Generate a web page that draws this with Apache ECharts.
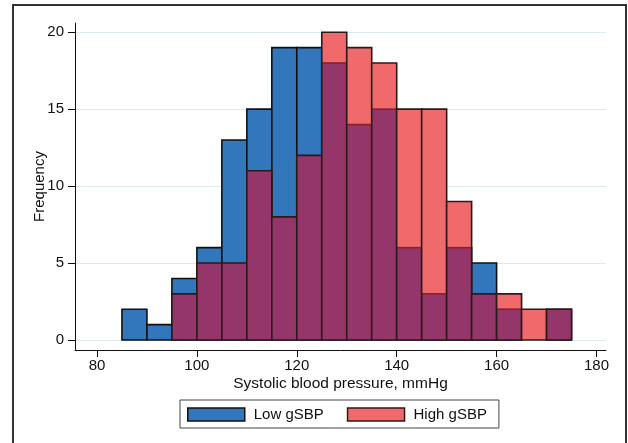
<!DOCTYPE html>
<html>
<head>
<meta charset="utf-8">
<script src="https://cdn.jsdelivr.net/npm/echarts@6.0.0/dist/echarts.min.js"></script>
<style>
  html, body { margin: 0; padding: 0; background: #fff; }
  #chart { width: 628px; height: 443px; }
</style>
</head>
<body>
<div id="chart"></div>
<script>
// histogram bins (left edge, width 5 mmHg)
var binStart = [85, 90, 95, 100, 105, 110, 115, 120, 125, 130, 135, 140, 145, 150, 155, 160, 165, 170];
var binWidth = 5;
var lowCounts  = [2, 1, 4, 6, 13, 15, 19, 19, 18, 14, 15, 6, 3, 6, 5, 2, 0, 2];
var highCounts = [0, 0, 3, 5, 5, 11, 8, 12, 20, 19, 18, 15, 15, 9, 3, 3, 2, 2];
var xTicks = [80, 100, 120, 140, 160, 180];
var yTicks = [0, 5, 10, 15, 20];

var blue = '#3276bc';
var red = '#f06a6c';
var purple = '#94366a';
var font = 'Liberation Sans, Arial, Helvetica, sans-serif';

var myChart = echarts.init(document.getElementById('chart'));

function barRect(api, x0, v) {
    var p0 = api.coord([x0, 0]);
    var p1 = api.coord([x0 + binWidth, v]);
    return { x: p0[0], y: p1[1], width: p1[0] - p0[0], height: p0[1] - p1[1] };
}

var option = {
    animation: false,
    textStyle: { fontFamily: font },
    grid: { left: 75, right: 22, top: 23, bottom: 93 },
    graphic: [{
        type: 'rect',
        shape: { x: 13, y: 5, width: 613, height: 460 },
        style: { fill: 'none', stroke: '#333', lineWidth: 2 },
        silent: true
    }],
    legend: {
        left: 180,
        top: 400,
        orient: 'horizontal',
        padding: [7, 12, 6, 7],
        itemGap: 23,
        itemWidth: 57,
        itemHeight: 13,
        borderColor: '#444',
        borderWidth: 1,
        textStyle: { fontSize: 15, color: '#111', fontFamily: font, padding: [0, 0, 0, 4] },
        data: [
            { name: 'Low gSBP', icon: 'rect', itemStyle: { color: blue, borderColor: '#111', borderWidth: 1.5 } },
            { name: 'High gSBP', icon: 'rect', itemStyle: { color: red, borderColor: '#3a1515', borderWidth: 1.5 } }
        ]
    },
    xAxis: {
        type: 'value',
        min: 75.6,
        max: 181.9,
        name: 'Systolic blood pressure, mmHg',
        nameLocation: 'middle',
        nameGap: 26,
        nameMoveOverlap: false,
        nameTextStyle: { fontSize: 15.5, color: '#111', fontFamily: font },
        axisLine: { show: true, onZero: false, lineStyle: { color: '#111', width: 1 } },
        axisTick: { show: true, length: 7, customValues: xTicks, lineStyle: { color: '#111' } },
        axisLabel: { customValues: xTicks, fontSize: 15, color: '#111', margin: 8 },
        splitLine: { show: false }
    },
    yAxis: {
        type: 'value',
        min: -0.65,
        max: 20.6,
        name: 'Frequency',
        nameLocation: 'middle',
        nameGap: 28,
        nameMoveOverlap: false,
        nameTextStyle: { fontSize: 15, color: '#111', fontFamily: font },
        axisLine: { show: true, onZero: false, lineStyle: { color: '#111', width: 1 } },
        axisTick: { show: true, length: 7, customValues: yTicks, lineStyle: { color: '#111' } },
        axisLabel: { customValues: yTicks, fontSize: 15, color: '#111', margin: 11 },
        splitLine: { show: true, lineStyle: { color: '#dcebee', width: 1 } }
    },
    series: [
        {
            name: 'Low gSBP',
            type: 'custom',
            itemStyle: { color: blue, borderColor: '#111', borderWidth: 1.5 },
            data: binStart.map(function (s, i) { return [s, lowCounts[i]]; }),
            renderItem: function (params, api) {
                var v = api.value(1);
                if (!(v > 0)) return null;
                return {
                    type: 'rect',
                    shape: barRect(api, api.value(0), v),
                    style: { fill: blue, stroke: '#111', lineWidth: 1.6 }
                };
            }
        },
        {
            name: 'High gSBP',
            type: 'custom',
            itemStyle: { color: red, borderColor: '#3a1515', borderWidth: 1.5 },
            data: binStart.map(function (s, i) { return [s, highCounts[i], lowCounts[i]]; }),
            renderItem: function (params, api) {
                var x0 = api.value(0);
                var v = api.value(1);
                var low = api.value(2);
                if (!(v > 0)) return null;
                var r = barRect(api, x0, v);
                var children = [{
                    type: 'rect', shape: r,
                    style: { fill: red, stroke: null }
                }];
                if (low > 0) {
                    var m = barRect(api, x0, Math.min(v, low));
                    children.push({ type: 'rect', shape: m, style: { fill: purple, stroke: null } });
                    if (low < v) {
                        children.push({
                            type: 'line',
                            shape: { x1: m.x, y1: m.y, x2: m.x + m.width, y2: m.y },
                            style: { stroke: '#8a1f2a', lineWidth: 1.6 }
                        });
                    }
                }
                children.push({
                    type: 'rect', shape: r,
                    style: { fill: 'none', stroke: '#2a1a1a', lineWidth: 1.6 }
                });
                return { type: 'group', children: children };
            }
        }
    ]
};

myChart.setOption(option);
</script>
</body>
</html>
